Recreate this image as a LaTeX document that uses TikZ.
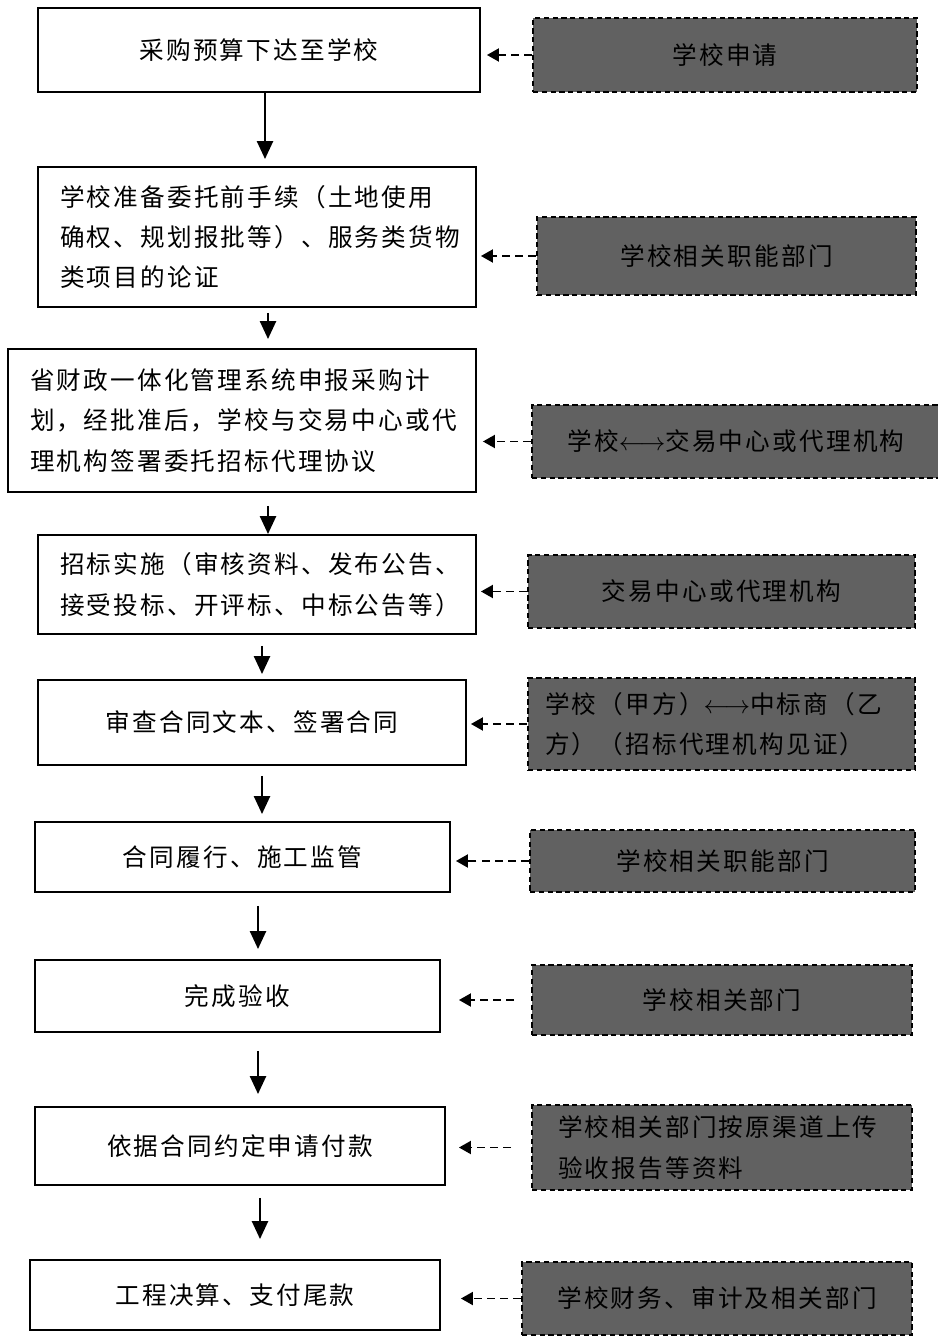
\documentclass[tikz,border=0pt]{standalone}
\usepackage{fontspec}
\setmainfont{Noto Sans CJK SC}[LetterSpace=9]
\usetikzlibrary{arrows.meta}

\begin{document}
\begin{tikzpicture}[x=0.02cm,y=-0.02cm,
  stepbox/.style={draw,line width=1.1pt,inner sep=0pt,font=\fontsize{14pt}{23pt}\selectfont},
  textbox/.style={align=left,inner xsep=0.44cm,inner ysep=0pt},
  infobox/.style={draw,dash pattern=on 3pt off 2pt,line width=1.1pt,fill=black!62,inner sep=0pt,font=\fontsize{14pt}{23pt}\selectfont},
  down/.style={line width=1.4pt,-{Triangle[width=0.32cm,length=0.36cm]}},
  back/.style={line width=1.1pt,dash pattern=on 4.5pt off 3pt,-{Triangle[width=0.26cm,length=0.24cm]}}]
\useasboundingbox (0,0) rectangle (937,1337);
% steps
\node[stepbox,minimum width=8.84cm,minimum height=1.68cm] (b1) at (259,50) {采购预算下达至学校};
\node[stepbox,textbox,text width=7.88cm,minimum height=2.8cm] (b2) at (257,237) {学校准备委托前手续（土地使用\\确权、规划报批等）、服务类货物\\类项目的论证};
\node[stepbox,textbox,text width=8.48cm,minimum height=2.86cm] (b3) at (242,420.5) {省财政一体化管理系统申报采购计\\划，经批准后，学校与交易中心或代\\理机构签署委托招标代理协议};
\node[stepbox,textbox,text width=7.88cm,minimum height=1.98cm] (b4) at (257,584.5) {招标实施（审核资料、发布公告、\\接受投标、开评标、中标公告等）};
\node[stepbox,minimum width=8.56cm,minimum height=1.7cm] (b5) at (252,722.5) {审查合同文本、签署合同};
\node[stepbox,minimum width=8.3cm,minimum height=1.4cm] (b6) at (242.5,857) {合同履行、施工监管};
\node[stepbox,minimum width=8.1cm,minimum height=1.44cm] (b7) at (237.5,996) {完成验收};
\node[stepbox,minimum width=8.2cm,minimum height=1.56cm] (b8) at (240,1146) {依据合同约定申请付款};
\node[stepbox,minimum width=8.2cm,minimum height=1.4cm] (b9) at (235,1295) {工程决算、支付尾款};
% who does it
\node[infobox,minimum width=7.68cm,minimum height=1.48cm] (r1) at (725,55) {学校申请};
\node[infobox,minimum width=7.58cm,minimum height=1.56cm] (r2) at (726.5,256) {学校相关职能部门};
\node[infobox,minimum width=8.16cm,minimum height=1.46cm] (r3) at (736,441.5) {学校$\longleftrightarrow$交易中心或代理机构};
\node[infobox,minimum width=7.74cm,minimum height=1.46cm] (r4) at (721.5,591.5) {交易中心或代理机构};
\node[infobox,align=left,inner xsep=0.34cm,text width=7.06cm,minimum height=1.84cm] (r5) at (721.5,724) {学校（甲方）$\longleftrightarrow$中标商（乙\\方）（招标代理机构见证）};
\node[infobox,minimum width=7.7cm,minimum height=1.24cm] (r6) at (722.5,861) {学校相关职能部门};
\node[infobox,minimum width=7.6cm,minimum height=1.4cm] (r7) at (722,1000) {学校相关部门};
\node[infobox,align=left,inner xsep=0.52cm,text width=6.56cm,minimum height=1.7cm] (r8) at (722,1147.5) {学校相关部门按原渠道上传\\验收报告等资料};
\node[infobox,minimum width=7.8cm,minimum height=1.46cm] (r9) at (717,1298.5) {学校财务、审计及相关部门};
% flow
\coordinate (x1) at (265,0);
\coordinate (x2) at (268,0);
\coordinate (x3) at (262,0);
\coordinate (x4) at (258,0);
\coordinate (x5) at (260,0);
\draw[down,shorten >=0.14cm] (x1 |- b1.south) -- (x1 |- b2.north);
\draw[down,shorten <=0.1cm,shorten >=0.18cm] (x2 |- b2.south) -- (x2 |- b3.north);
\draw[down,shorten <=0.26cm] (x2 |- b3.south) -- (x2 |- b4.north);
\draw[down,shorten <=0.22cm,shorten >=0.1cm] (x3 |- b4.south) -- (x3 |- b5.north);
\draw[down,shorten <=0.2cm,shorten >=0.14cm] (x3 |- b5.south) -- (x3 |- b6.north);
\draw[down,shorten <=0.26cm,shorten >=0.2cm] (x4 |- b6.south) -- (x4 |- b7.north);
\draw[down,shorten <=0.36cm,shorten >=0.24cm] (x4 |- b7.south) -- (x4 |- b8.north);
\draw[down,shorten <=0.24cm,shorten >=0.4cm] (x5 |- b8.south) -- (x5 |- b9.north);
% dashed links
\draw[back,shorten >=0.12cm] (r1.west) -- (r1.west -| b1.east);
\draw[back,shorten >=0.08cm] (r2.west) -- (r2.west -| b2.east);
\draw[back,shorten >=0.12cm] (r3.west) -- (r3.west -| b3.east);
\draw[back,shorten >=0.08cm] (r4.west) -- (r4.west -| b4.east);
\draw[back,shorten >=0.08cm] (r5.west) -- (r5.west -| b5.east);
\draw[back,shorten >=0.1cm] (r6.west) -- (r6.west -| b6.east);
\draw[back,shorten <=0.34cm,shorten >=0.36cm] (r7.west) -- (r7.west -| b7.east);
\draw[back,shorten <=0.4cm,shorten >=0.26cm] (r8.west) -- (r8.west -| b8.east);
\draw[back,shorten >=0.4cm] (r9.west) -- (r9.west -| b9.east);
\end{tikzpicture}
\end{document}
